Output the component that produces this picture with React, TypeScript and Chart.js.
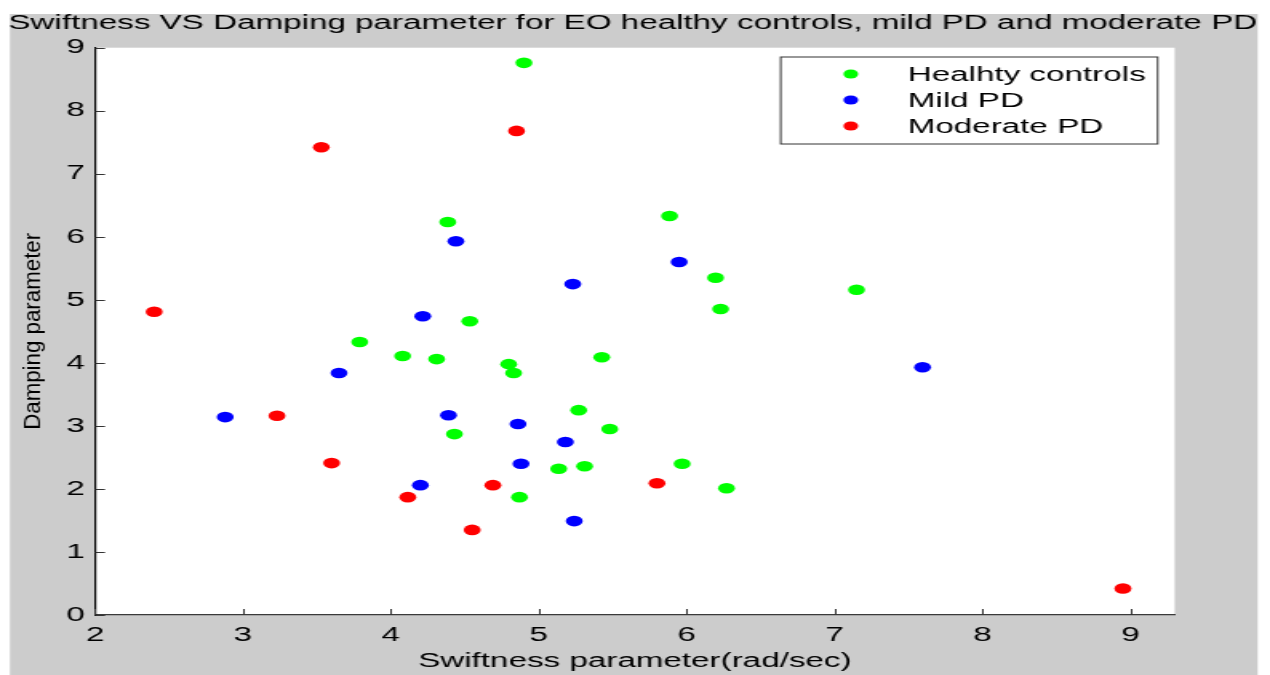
import React, { useEffect, useRef } from "react";
import { Chart, registerables } from "chart.js";

Chart.register(...registerables);

// ---------- data ----------
const TITLE = "Swiftness VS Damping parameter for EO healthy controls, mild PD and moderate PD";
const X_TITLE = "Swiftness parameter(rad/sec)";
const Y_TITLE = "Damping parameter";
const seriesLabels = ["Healhty controls", "Mild PD", "Moderate PD"];
const seriesColors = ["rgb(0,255,0)", "rgb(0,0,255)", "rgb(255,0,0)"];

const xTicks = [2, 3, 4, 5, 6, 7, 8, 9];
const yTicks = [0, 1, 2, 3, 4, 5, 6, 7, 8, 9];

const healthyX = [4.9, 4.385, 5.885, 6.196, 7.149, 6.23, 4.534, 3.79, 4.08, 4.31, 4.797, 5.426, 4.83, 5.27, 5.48, 4.43, 5.135, 5.31, 5.97, 4.87, 6.27];
const healthyY = [8.76, 6.235, 6.33, 5.35, 5.16, 4.855, 4.66, 4.33, 4.11, 4.06, 3.98, 4.09, 3.84, 3.25, 2.95, 2.87, 2.32, 2.36, 2.4, 1.87, 2.01];

const mildX = [4.44, 5.95, 5.23, 4.216, 3.65, 7.595, 2.88, 4.39, 4.86, 5.18, 4.88, 4.2, 5.24];
const mildY = [5.93, 5.6, 5.25, 4.74, 3.84, 3.93, 3.14, 3.17, 3.03, 2.745, 2.4, 2.06, 1.49];

const moderateX = [4.85, 3.53, 2.4, 3.23, 3.6, 4.115, 4.69, 5.8, 4.55, 8.95];
const moderateY = [7.68, 7.42, 4.81, 3.16, 2.41, 1.87, 2.06, 2.09, 1.35, 0.42];

// ---------- layout (canvas units; canvas is stretched horizontally by CSS) ----------
const CW = 794;
const CH = 675;
const FONT = "'Liberation Sans', Arial, Helvetica, sans-serif";
const FS = 20.75;

const toPts = (xs: number[], ys: number[]) => xs.map((x, i) => ({ x, y: ys[i] }));

const decoPlugin = {
  id: "deco",
  beforeDraw(chart: any) {
    const { ctx, chartArea: a } = chart;
    ctx.save();
    ctx.fillStyle = "#ffffff";
    ctx.fillRect(0, 0, CW, CH);
    ctx.fillStyle = "#cccccc";
    ctx.fillRect(6.25, 14, 786.25 - 6.25, CH - 14);
    ctx.fillStyle = "#ffffff";
    ctx.fillRect(a.left, a.top, a.right - a.left, a.bottom - a.top);

    ctx.fillStyle = "#000000";
    ctx.font = `${FS}px ${FONT}`;
    ctx.textAlign = "center";
    ctx.textBaseline = "alphabetic";
    ctx.fillText(TITLE, 395.6, 29);

    ctx.translate(20.5, (a.top + a.bottom) / 2);
    ctx.scale(0.695, 1);
    ctx.rotate(-Math.PI / 2);
    ctx.font = `22.3px ${FONT}`;
    ctx.textBaseline = "middle";
    ctx.textAlign = "center";
    ctx.fillText(Y_TITLE, 0, 0);
    ctx.restore();
  },
  afterDraw(chart: any) {
    const { ctx, chartArea: a, scales } = chart;
    ctx.save();
    // inward tick marks
    ctx.strokeStyle = "#333333";
    ctx.lineWidth = 1;
    ctx.beginPath();
    scales.x.ticks.forEach((t: any) => {
      const px = Math.round(scales.x.getPixelForValue(t.value)) + 0.5;
      ctx.moveTo(px, a.bottom);
      ctx.lineTo(px, a.bottom - 6);
    });
    scales.y.ticks.forEach((t: any) => {
      const py = Math.round(scales.y.getPixelForValue(t.value)) + 0.5;
      ctx.moveTo(a.left, py);
      ctx.lineTo(a.left + 6.25, py);
    });
    ctx.stroke();

    // legend
    const lx = 488.1, ly = 57, lw = 723.75 - 488.1, lh = 87;
    ctx.fillStyle = "#ffffff";
    ctx.fillRect(lx, ly, lw, lh);
    ctx.strokeStyle = "#333333";
    ctx.lineWidth = 1;
    ctx.strokeRect(lx, ly, lw, lh);
    chart.data.datasets.forEach((ds: any, i: number) => {
      const cy = 74 + 26 * i;
      ctx.fillStyle = ds.backgroundColor;
      ctx.beginPath();
      ctx.arc(531.9, cy, 4.6, 0, Math.PI * 2);
      ctx.fill();
      ctx.fillStyle = "#000000";
      ctx.font = `${FS}px ${FONT}`;
      ctx.textAlign = "left";
      ctx.textBaseline = "middle";
      ctx.fillText(ds.label, 567.5, cy + 1.5);
    });
    ctx.restore();
  },
};

export default function App() {
  const ref = useRef<HTMLCanvasElement>(null);

  useEffect(() => {
    if (!ref.current) return;
    const datasets = [
      toPts(healthyX, healthyY),
      toPts(mildX, mildY),
      toPts(moderateX, moderateY),
    ].map((data, i) => ({
      label: seriesLabels[i],
      data,
      backgroundColor: seriesColors[i],
      borderWidth: 0,
      pointRadius: 5.3,
      pointHoverRadius: 5.3,
    }));

    const chart = new Chart(ref.current, {
      type: "scatter",
      data: { datasets },
      options: {
        responsive: false,
        animation: false,
        events: [],
        layout: { padding: { left: 0, top: 47.7, right: 59.6, bottom: 0 } },
        plugins: {
          legend: { display: false },
          tooltip: { enabled: false },
          title: { display: false },
        },
        scales: {
          x: {
            type: "linear",
            min: 2,
            max: 9.3,
            grid: { display: false, drawTicks: false },
            border: { display: true, color: "#3a3a3a", width: 1.2 },
            afterBuildTicks: (s: any) => {
              s.ticks = xTicks.map((v) => ({ value: v }));
            },
            afterFit: (s: any) => {
              s.height = 60;
            },
            ticks: {
              color: "#000",
              padding: 7.5,
              font: { family: FONT, size: FS },
              maxRotation: 0,
              autoSkip: false,
            },
            title: {
              display: true,
              text: X_TITLE,
              color: "#000",
              font: { family: FONT, size: FS },
              padding: { top: 0, bottom: 1.5 },
            },
          },
          y: {
            type: "linear",
            min: 0,
            max: 9,
            grid: { display: false, drawTicks: false },
            border: { display: true, color: "#000", width: 1.2 },
            afterBuildTicks: (s: any) => {
              s.ticks = yTicks.map((v) => ({ value: v }));
            },
            afterFit: (s: any) => {
              s.width = 59.4;
            },
            ticks: {
              color: "#000",
              padding: 6.4,
              font: { family: FONT, size: FS },
              autoSkip: false,
            },
          },
        },
      },
      plugins: [decoPlugin],
    } as any);

    return () => chart.destroy();
  }, []);

  return (
    <div style={{ position: "absolute", left: 0, top: 0, width: 1270, height: 675 }}>
      <canvas
        ref={ref}
        width={CW}
        height={CH}
        style={{ display: "block", width: "1270px", height: "675px" }}
      />
    </div>
  );
}
